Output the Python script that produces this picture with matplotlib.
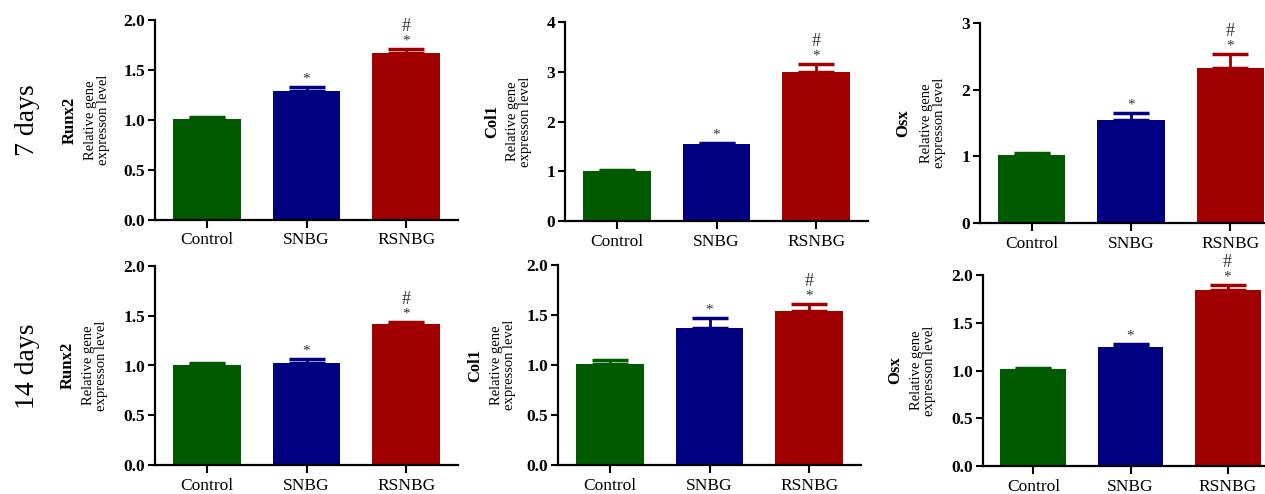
import matplotlib
matplotlib.use("Agg")
import matplotlib.pyplot as plt
import numpy as np

plt.rcParams["font.family"] = "Liberation Serif"

groups = ["Control", "SNBG", "RSNBG"]
genes = ["Runx2", "Col1", "Osx"]
colors = ["#005a00", "#000080", "#a00000"]

# mean values, rows = genes
vals_7d = [[1.01, 1.29, 1.67], [1.00, 1.54, 3.00], [1.02, 1.545, 2.32]]
err_7d = [[0.02, 0.04, 0.04], [0.02, 0.03, 0.15], [0.03, 0.10, 0.21]]
vals_14d = [[1.01, 1.03, 1.42], [1.01, 1.37, 1.54], [1.02, 1.25, 1.84]]
err_14d = [[0.02, 0.04, 0.02], [0.04, 0.10, 0.07], [0.01, 0.03, 0.06]]

ylims_7d = [2.0, 4.0, 3.0]
yticks_7d = [[0, 0.5, 1.0, 1.5, 2.0], [0, 1, 2, 3, 4], [0, 1, 2, 3]]
ylims_14d = [2.0, 2.0, 2.0]
yticks_14d = [[0, 0.5, 1.0, 1.5, 2.0]] * 3

W, H = 1265, 494
fig = plt.figure(figsize=(W / 100, H / 100), dpi=100)

# axes boxes in pixels: left spine x, zero line y, right end x, top y
boxes_7d = [(155, 220, 458, 20), (565, 221, 868, 22), (980, 223, 1282, 23)]
boxes_14d = [(155, 465, 458, 266), (558, 465, 861, 265), (983, 466, 1278, 275)]
# label offsets (px) from spine: gene name, two-line text
lab_off = [[(-85, -58), (-73, -46), (-77, -47)], [(-87, -60), (-83, -55), (-88, -60)]]


def panel(box, vals, errs, ymax, ticks, gene, offs, intfmt):
    l, b, r, t = box
    ax = fig.add_axes([l / W, 1 - b / H, (r - l) / W, (b - t) / H])
    x = np.arange(3)
    ax.bar(x, vals, width=0.68, color=colors, zorder=2)
    for i in range(3):
        ax.errorbar(x[i], vals[i], yerr=[[0], [errs[i]]], fmt="none",
                    ecolor=colors[i], elinewidth=2, capsize=13, capthick=2.5, zorder=3)
    for i in [1, 2]:
        top = vals[i] + errs[i]
        ax.annotate("*", (x[i], top), xytext=(0, 1), textcoords="offset points",
                    ha="center", va="bottom", fontsize=11, color="#333333")
        if i == 2:
            ax.annotate("#", (x[i], top), xytext=(0, 10), textcoords="offset points",
                        ha="center", va="bottom", fontsize=13, color="#333333")
    ax.set_xlim(-0.52, 2.52)
    ax.set_ylim(0, ymax)
    ax.set_yticks(ticks)
    if intfmt:
        ax.set_yticklabels([str(int(v)) for v in ticks])
    else:
        ax.set_yticklabels(["%.1f" % v for v in ticks])
    ax.set_xticks(x)
    ax.set_xticklabels(groups, fontsize=12.5)
    for lab in ax.get_yticklabels():
        lab.set_fontweight("bold")
        lab.set_fontsize(12.5)
    ax.tick_params(axis="y", length=5, width=1.5, pad=2)
    ax.tick_params(axis="x", length=6, width=1.5, pad=3)
    for s in ["top", "right"]:
        ax.spines[s].set_visible(False)
    for s in ["left", "bottom"]:
        ax.spines[s].set_linewidth(1.6)
    ax.annotate(gene, (0, 0.5), xycoords="axes fraction", xytext=(offs[0] * 0.72, 0),
                textcoords="offset points", rotation=90, ha="center", va="center",
                fontsize=12, fontweight="bold")
    ax.annotate("Relative gene\nexpresson level", (0, 0.5), xycoords="axes fraction",
                xytext=(offs[1] * 0.72, 0), textcoords="offset points", rotation=90,
                ha="center", va="center", fontsize=10.5, linespacing=1.05,
                multialignment="center")
    return ax


for k in range(3):
    panel(boxes_7d[k], vals_7d[k], err_7d[k], ylims_7d[k], yticks_7d[k], genes[k],
          lab_off[0][k], k > 0)
    panel(boxes_14d[k], vals_14d[k], err_14d[k], ylims_14d[k], yticks_14d[k], genes[k],
          lab_off[1][k], False)

fig.text(28 / W, 1 - 120 / H, "7 days", rotation=90, ha="center", va="center", fontsize=20)
fig.text(28 / W, 1 - 366 / H, "14 days", rotation=90, ha="center", va="center", fontsize=20)

fig.savefig("out.png", dpi=100)
